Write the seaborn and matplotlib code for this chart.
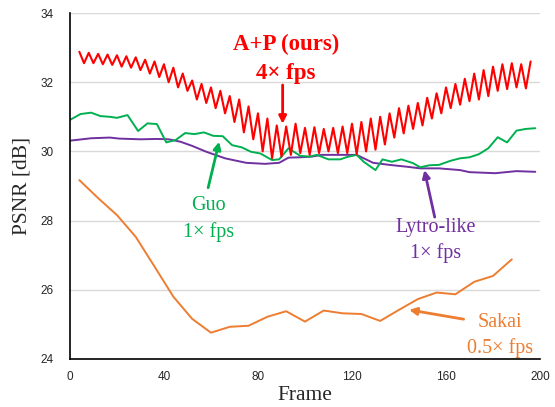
import numpy as np
import pandas as pd
import matplotlib
matplotlib.use("Agg")
import matplotlib.pyplot as plt
import seaborn as sns

# ---- data ----
ap_peak_frames = list(range(4, 197, 4))
ap_peak_psnr = [32.88, 32.85, 32.82, 32.80, 32.78, 32.75, 32.72, 32.65, 32.60, 32.52,
                32.42, 32.25, 32.05, 31.95, 31.85, 31.75, 31.60, 31.50, 31.30, 31.10,
                30.95, 30.75, 30.72, 30.80, 30.68, 30.70, 30.65, 30.68, 30.72, 30.80,
                30.85, 30.95, 31.00, 31.10, 31.25, 31.32, 31.40, 31.55, 31.68, 31.85,
                31.95, 32.10, 32.25, 32.35, 32.45, 32.52, 32.55, 32.52, 32.60]
ap_trough_frames = list(range(6, 195, 4))
ap_trough_psnr = [32.55, 32.55, 32.52, 32.50, 32.45, 32.42, 32.35, 32.25, 32.15, 32.00,
                  31.85, 31.75, 31.50, 31.40, 31.25, 31.10, 30.85, 30.55, 30.35, 30.00,
                  29.80, 29.85, 29.90, 29.95, 29.90, 29.95, 30.00, 29.95, 29.95, 29.92,
                  30.00, 30.05, 30.20, 30.40, 30.52, 30.65, 30.75, 30.95, 31.10, 31.25,
                  31.35, 31.45, 31.50, 31.60, 31.75, 31.80, 31.85, 31.82]

guo_frames = [0, 4.5, 9, 13, 17, 20, 24.5, 29, 33, 37, 41, 45, 49, 53, 57, 61, 65, 69,
              73, 77, 81, 86, 89, 93, 98, 102, 105, 110, 115, 118, 122, 125, 130, 133,
              137, 141, 146, 149, 153, 157, 162, 166, 170, 174, 178, 182, 186, 190, 194, 198]
guo_psnr = [30.91, 31.08, 31.12, 31.02, 31.00, 30.97, 31.05, 30.59, 30.81, 30.79,
            30.26, 30.33, 30.53, 30.50, 30.55, 30.45, 30.44, 30.18, 30.12, 29.99,
            29.94, 29.75, 29.77, 30.09, 29.87, 29.85, 29.90, 29.77, 29.77, 29.84,
            29.90, 29.70, 29.46, 29.77, 29.70, 29.77, 29.66, 29.54, 29.60, 29.61,
            29.73, 29.80, 29.83, 29.92, 30.09, 30.41, 30.26, 30.60, 30.65, 30.67]

lytro_frames = [0, 9, 17, 21, 30, 37, 42, 47, 52, 58, 66, 75, 83, 89, 93, 98, 103, 107,
                115, 122, 129, 136, 143, 149, 157, 166, 170, 181, 190, 198]
lytro_psnr = [30.31, 30.38, 30.40, 30.37, 30.35, 30.36, 30.35, 30.28, 30.16, 29.99,
              29.80, 29.67, 29.64, 29.67, 29.82, 29.83, 29.85, 29.90, 29.90, 29.90,
              29.67, 29.61, 29.56, 29.51, 29.51, 29.46, 29.40, 29.37, 29.43, 29.41]

sakai_frames = list(range(4, 189, 8))
sakai_psnr = [29.17, 28.65, 28.16, 27.53, 26.67, 25.80, 25.16, 24.76, 24.93, 24.96,
              25.22, 25.38, 25.08, 25.40, 25.32, 25.30, 25.10, 25.42, 25.73, 25.92,
              25.87, 26.23, 26.40, 26.88]

x_ticks = [0, 40, 80, 120, 160, 200]
y_ticks = [24, 26, 28, 30, 32, 34]

RED, GREEN, PURPLE, ORANGE = "#FF0000", "#00B050", "#7030A0", "#ED7D31"

# ---- build tables ----
ap = pd.DataFrame({"frame": ap_peak_frames + ap_trough_frames,
                   "psnr": ap_peak_psnr + ap_trough_psnr}).sort_values("frame")
guo = pd.DataFrame({"frame": guo_frames, "psnr": guo_psnr})
lytro = pd.DataFrame({"frame": lytro_frames, "psnr": lytro_psnr})
sakai = pd.DataFrame({"frame": sakai_frames, "psnr": sakai_psnr})

sns.set_style("white")
plt.rcParams["font.family"] = ["Liberation Sans", "DejaVu Sans"]

fig = plt.figure(figsize=(5.55, 4.07), dpi=100)
ax = fig.add_axes([0.126, 0.118, 0.847, 0.850])

for y in y_ticks:
    ax.axhline(y, color="#D9D9D9", lw=1.0, zorder=0)

sns.lineplot(data=sakai, x="frame", y="psnr", color=ORANGE, lw=1.4, estimator=None, ax=ax)
sns.lineplot(data=lytro, x="frame", y="psnr", color=PURPLE, lw=1.4, estimator=None, ax=ax)
sns.lineplot(data=guo, x="frame", y="psnr", color=GREEN, lw=1.4, estimator=None, ax=ax)
sns.lineplot(data=ap, x="frame", y="psnr", color=RED, lw=1.5, estimator=None, ax=ax)

ax.set_xlim(0, 200)
ax.set_ylim(24, 34)
ax.set_xticks(x_ticks)
ax.set_yticks(y_ticks)
ax.tick_params(axis="y", length=0, labelsize=8.5, pad=12)
ax.tick_params(axis="x", length=0, labelsize=8.5, pad=9)
for s in ["top", "right"]:
    ax.spines[s].set_visible(False)
for s in ["left", "bottom"]:
    ax.spines[s].set_color("black")
    ax.spines[s].set_linewidth(1.2)

serif = ["Liberation Serif", "DejaVu Serif"]
ax.set_xlabel("Frame", family=serif, fontsize=15.5, labelpad=2)
ax.set_ylabel("PSNR [dB]", family=serif, fontsize=15.5, labelpad=6)

def arrow(text_xy, head_xy, color):
    ax.annotate("", xy=head_xy, xytext=text_xy,
                arrowprops=dict(arrowstyle="-|>", color=color, lw=2.0,
                                mutation_scale=11, shrinkA=0, shrinkB=0))

ax.text(92, 31.95, "A+P (ours)\n4\u00d7 fps", color=RED, family=serif, fontsize=16.5,
        fontweight="bold", ha="center", va="bottom", linespacing=1.5)
arrow((90.5, 31.92), (90.5, 30.80), RED)

ax.text(59, 28.05, "Guo\n1\u00d7 fps", color=GREEN, family=serif, fontsize=14.5,
        ha="center", va="center", linespacing=1.5)
arrow((58.8, 28.95), (63.5, 30.28), GREEN)

ax.text(155.5, 27.42, "Lytro-like\n1\u00d7 fps", color=PURPLE, family=serif, fontsize=14.5,
        ha="center", va="center", linespacing=1.45)
arrow((155.2, 28.1), (150.8, 29.46), PURPLE)

ax.text(183, 24.68, "Sakai\n0.5\u00d7 fps", color=ORANGE, family=serif, fontsize=14.5,
        ha="center", va="center", linespacing=1.45)
arrow((167.5, 25.15), (144.3, 25.42), ORANGE)

fig.savefig("out.png", dpi=100)
